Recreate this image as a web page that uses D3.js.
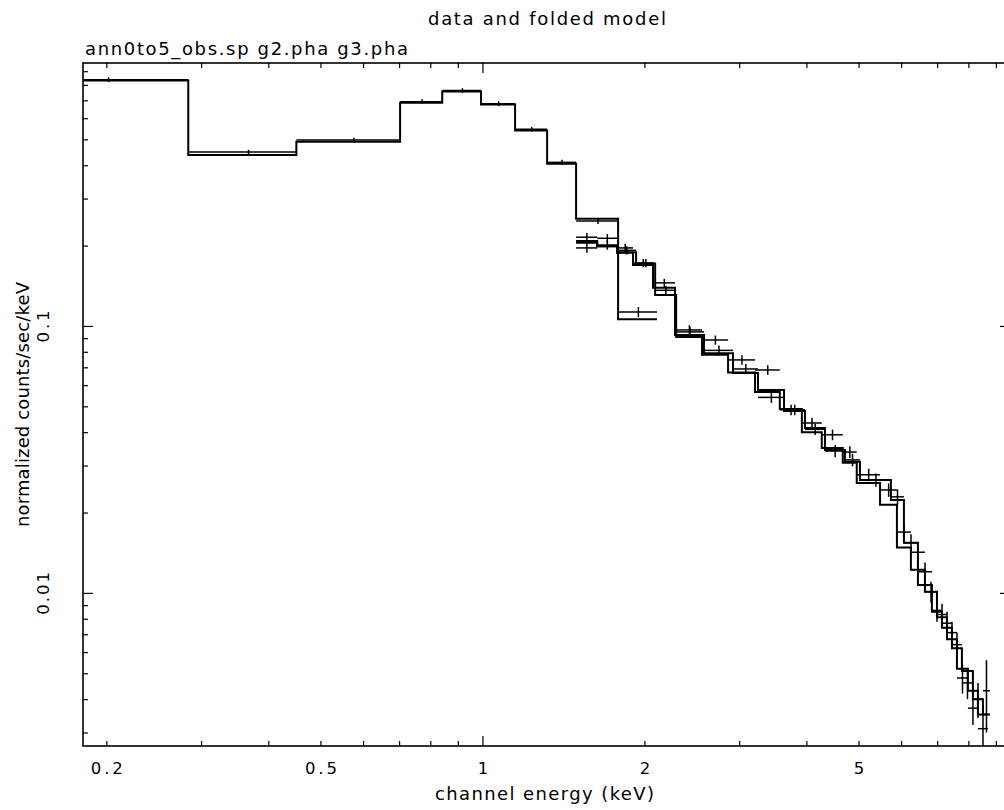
<!DOCTYPE html>
<html>
<head>
<meta charset="utf-8">
<script src="https://cdn.jsdelivr.net/npm/d3@7"></script>
<style>
body{margin:0;background:#fff}
svg{display:block}
text{font-family:"DejaVu Sans",sans-serif;fill:#000}
</style>
</head>
<body>
<div id="chart"></div>
<script>
// ann0to5_obs.sp : bin edges (keV), data, 1-sigma errors, folded model
const annEdges = [0.12, 0.284, 0.451, 0.703, 0.842, 0.994, 1.15, 1.319, 1.493, 1.787, 2.111];
const annData  = [0.836, 0.448, 0.497, 0.692, 0.762, 0.680, 0.545, 0.410, 0.247, 0.1128];
const annErr   = [0.017, 0.009, 0.010, 0.014, 0.015, 0.014, 0.011, 0.009, 0.006, 0.005];
const annModel = [0.830, 0.437, 0.490, 0.686, 0.755, 0.675, 0.540, 0.405, 0.252, 0.106];

// g2.pha
const g2Edges = [1.493, 1.634, 1.779, 1.905, 2.075, 2.280, 2.581, 2.922, 3.252, 3.635, 3.976, 4.331,
  4.717, 5.030, 5.743, 6.072, 6.447, 6.844, 7.145, 7.457, 7.782, 8.157, 8.515, 8.773];
const g2Data  = [0.215, 0.213, 0.196, 0.172, 0.145, 0.095, 0.081, 0.069, 0.054, 0.0485, 0.041, 0.034,
  0.0315, 0.0265, 0.0229, 0.0154, 0.0120, 0.0086, 0.0077, 0.0064, 0.0046, 0.0040, 0.0043];
const g2Err   = [0.008, 0.008, 0.007, 0.006, 0.005, 0.004, 0.0035, 0.003, 0.0025, 0.0022, 0.002, 0.0018,
  0.0017, 0.0015, 0.0015, 0.0012, 0.001, 0.0008, 0.0008, 0.0007, 0.0006, 0.0006, 0.0013];
const g2Model = [0.208, 0.199, 0.188, 0.169, 0.139, 0.0925, 0.079, 0.0667, 0.0576, 0.048, 0.0415, 0.0343,
  0.031, 0.0265, 0.0223, 0.0154, 0.0107, 0.0085, 0.0074, 0.0062, 0.0051, 0.0040, 0.0035];

// g3.pha
const g3Edges = [1.493, 1.634, 1.779, 1.930, 2.094, 2.291, 2.559, 2.861, 3.211, 3.570, 3.923, 4.272,
  4.674, 4.962, 5.482, 5.893, 6.256, 6.643, 6.994, 7.300, 7.618, 7.985, 8.333, 8.700];
const g3Data  = [0.196, 0.201, 0.192, 0.172, 0.136, 0.0966, 0.0886, 0.0746, 0.0684, 0.0485, 0.0433, 0.0391,
  0.0337, 0.0277, 0.0243, 0.0169, 0.0142, 0.0101, 0.0083, 0.0071, 0.0048, 0.0037, 0.0031];
const g3Err   = [0.008, 0.008, 0.007, 0.006, 0.005, 0.004, 0.0035, 0.003, 0.0028, 0.0022, 0.002, 0.0018,
  0.0017, 0.0015, 0.0014, 0.0012, 0.0011, 0.0009, 0.0008, 0.0007, 0.0006, 0.0005, 0.0007];
const g3Model = [0.205, 0.199, 0.189, 0.171, 0.1306, 0.091, 0.078, 0.067, 0.0566, 0.0489, 0.040, 0.0349,
  0.0307, 0.0258, 0.0214, 0.0148, 0.0122, 0.0101, 0.0081, 0.0067, 0.0052, 0.0043, 0.0035];

const xTickValues = [0.2, 0.3, 0.4, 0.5, 0.6, 0.7, 0.8, 0.9, 1, 2, 3, 4, 5, 6, 7, 8, 9];
const xTickLabels = [0.2, 0.5, 1, 2, 5];
const yTickValues = [0.003, 0.004, 0.005, 0.006, 0.007, 0.008, 0.009, 0.01,
  0.02, 0.03, 0.04, 0.05, 0.06, 0.07, 0.08, 0.09, 0.1,
  0.2, 0.3, 0.4, 0.5, 0.6, 0.7, 0.8, 0.9];
const yTickLabels = [0.01, 0.1];

const width = 1004, height = 810;
const box = {left: 83, right: 1010, top: 63, bottom: 746};

var x = d3.scaleLog().domain([0.181, 9.56]).range([box.left, box.right]);
var y = d3.scaleLog().domain([0.00267, 0.966]).range([box.bottom, box.top]);

const isMajor = d => Math.abs(Math.log10(d) - Math.round(Math.log10(d))) < 1e-9;
const fmt = d3.format("~g");

var svg = d3.select("#chart").append("svg")
	.attr("width", width)
	.attr("height", height);

svg.append("clipPath").attr("id", "plotclip")
	.append("rect")
	.attr("x", box.left).attr("y", box.top)
	.attr("width", box.right - box.left).attr("height", box.bottom - box.top);

const sets = [
	{edges: annEdges, data: annData, err: annErr, model: annModel},
	{edges: g2Edges, data: g2Data, err: g2Err, model: g2Model},
	{edges: g3Edges, data: g3Data, err: g3Err, model: g3Model}
];

var plot = svg.append("g").attr("clip-path", "url(#plotclip)");

var line = d3.line().x(d => x(d[0])).y(d => y(d[1]));

// folded model, one stepped line per spectrum
plot.selectAll("path.model")
	.data(sets)
	.join("path")
		.attr("class", "model")
		.attr("fill", "none")
		.attr("stroke", "#000")
		.attr("stroke-width", 2)
		.attr("d", s => line(s.model.flatMap((m, i) => [[s.edges[i], m], [s.edges[i + 1], m]])));

// data crosses
sets.forEach(s => {
	const pts = s.data.map((v, i) => ({lo: s.edges[i], hi: s.edges[i + 1], v: v, e: s.err[i]}));
	const g = plot.append("g").attr("stroke", "#000").attr("stroke-width", 1.5);
	g.selectAll("line.h").data(pts).join("line")
		.attr("class", "h")
		.attr("x1", d => x(d.lo)).attr("x2", d => x(d.hi))
		.attr("y1", d => y(d.v)).attr("y2", d => y(d.v));
	g.selectAll("line.v").data(pts).join("line")
		.attr("class", "v")
		.attr("x1", d => x((d.lo + d.hi) / 2)).attr("x2", d => x((d.lo + d.hi) / 2))
		.attr("y1", d => y(Math.max(d.v - d.e, 1e-4)))
		.attr("y2", d => y(d.v + d.e));
});

// axes: ticks pointing inwards on all four sides
function tidy(g) {
	g.select(".domain").remove();
	g.selectAll(".tick line").attr("stroke", "#000").attr("stroke-width", 1.2);
}

function stretch(sel) {
	sel.each(function(d) {
		const t = fmt(d);
		if (t.length > 1) d3.select(this).attr("textLength", 10.7 * t.length).attr("lengthAdjust", "spacing");
	});
}

svg.append("g")
	.attr("transform", `translate(0,${box.bottom})`)
	.call(d3.axisBottom(x).tickValues(xTickValues).tickSize(-5)
		.tickFormat(d => xTickLabels.includes(d) ? fmt(d) : ""))
	.call(tidy)
	.call(g => g.selectAll(".tick line").attr("y2", d => isMajor(d) ? -10 : -5))
	.call(g => g.selectAll(".tick text")
		.attr("y", 28).attr("dy", 0)
		.attr("font-size", 16.5)
		.call(stretch));

svg.append("g")
	.attr("transform", `translate(0,${box.top})`)
	.call(d3.axisTop(x).tickValues(xTickValues).tickSize(-5).tickFormat(""))
	.call(tidy)
	.call(g => g.selectAll(".tick line").attr("y2", d => isMajor(d) ? 10 : 5));

svg.append("g")
	.attr("transform", `translate(${box.left},0)`)
	.call(d3.axisLeft(y).tickValues(yTickValues).tickSize(-5)
		.tickFormat(d => yTickLabels.includes(d) ? fmt(d) : ""))
	.call(tidy)
	.call(g => g.selectAll(".tick line").attr("x2", d => isMajor(d) ? 10 : 5))
	.call(g => g.selectAll(".tick text")
		.attr("x", 0).attr("y", -34).attr("dy", 0)
		.attr("transform", "rotate(-90)")
		.attr("text-anchor", "middle")
		.attr("font-size", 16.5)
		.call(stretch));

svg.append("g")
	.attr("transform", `translate(${box.right},0)`)
	.call(d3.axisRight(y).tickValues(yTickValues).tickSize(-5).tickFormat(""))
	.call(tidy)
	.call(g => g.selectAll(".tick line").attr("x2", d => isMajor(d) ? -10 : -5));

// frame
svg.append("rect")
	.attr("x", box.left).attr("y", box.top)
	.attr("width", box.right - box.left).attr("height", box.bottom - box.top)
	.attr("fill", "none").attr("stroke", "#000").attr("stroke-width", 1.6);

// titles and axis labels
svg.append("text")
	.attr("x", 547).attr("y", 25)
	.attr("text-anchor", "middle").attr("font-size", 18)
	.attr("textLength", 238).attr("lengthAdjust", "spacing")
	.text("data and folded model");

svg.append("text")
	.attr("x", 85).attr("y", 55)
	.attr("font-size", 18)
	.attr("textLength", 323).attr("lengthAdjust", "spacing")
	.text("ann0to5_obs.sp g2.pha g3.pha");

svg.append("text")
	.attr("x", 544.5).attr("y", 800)
	.attr("text-anchor", "middle").attr("font-size", 18)
	.attr("textLength", 219).attr("lengthAdjust", "spacing")
	.text("channel energy (keV)");

svg.append("text")
	.attr("transform", "translate(29,404.5) rotate(-90)")
	.attr("text-anchor", "middle").attr("font-size", 18)
	.attr("textLength", 245).attr("lengthAdjust", "spacing")
	.text("normalized counts/sec/keV");
</script>
</body>
</html>
